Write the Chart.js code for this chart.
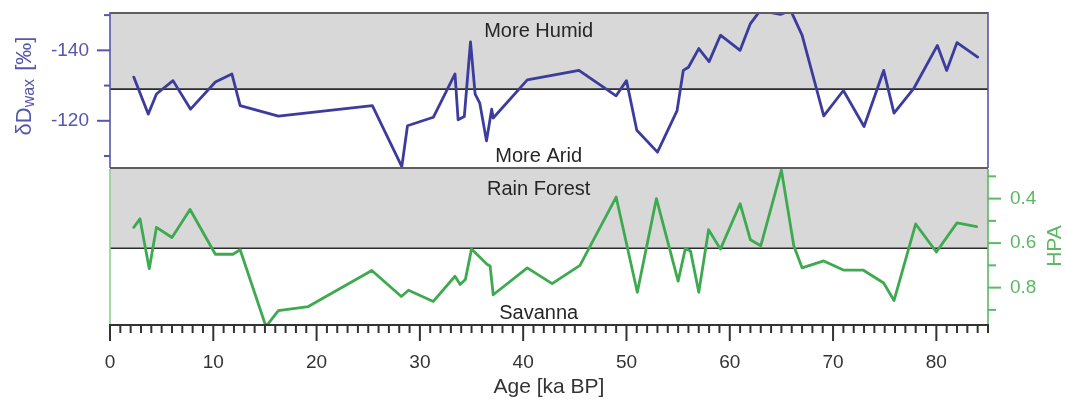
<!DOCTYPE html>
<html><head><meta charset="utf-8">
<script src="https://cdn.jsdelivr.net/npm/chart.js@4.4.1/dist/chart.umd.min.js"></script>
<style>
html,body{margin:0;padding:0;background:#fff;}
#wrap{position:relative;width:1066px;height:401px;background:#fff;}
canvas{position:absolute;left:0;top:0;}
</style></head><body>
<div id="wrap"><canvas id="cTop" width="1066" height="401"></canvas><canvas id="cBot" width="1066" height="401"></canvas></div>
<script>
// ---- data ----
const ageD = [2.3, 3.7, 4.5, 6.1, 7.8, 10.2, 11.8, 12.6, 16.3, 25.4, 28.25, 28.8, 31.3, 33.4, 33.7, 34.3, 34.9, 35.35, 35.8, 36.45, 36.95, 37.1, 40.4, 45.4, 49.0, 50.0, 51.0, 53.0, 54.9, 55.5, 56.0, 57.0, 58.0, 59.1, 61.0, 62.0, 62.95, 64.9, 65.9, 67.0, 69.1, 71.0, 73.0, 74.9, 75.9, 77.8, 80.1, 81.0, 82.0, 84.0];
const dDwax = [-132.4, -121.9, -127.6, -131.4, -123.3, -131.0, -133.3, -124.3, -121.3, -124.3, -107.0, -118.6, -121.0, -133.3, -120.3, -121.2, -142.4, -127.6, -125.0, -114.3, -123.3, -120.8, -131.6, -134.3, -127.1, -131.4, -117.3, -111.1, -122.9, -134.3, -135.2, -140.5, -136.8, -144.3, -140.0, -147.6, -151.3, -150.2, -151.3, -144.3, -121.4, -128.6, -118.4, -134.3, -122.2, -129.1, -141.4, -134.3, -142.2, -138.1];
const ageH = [2.3, 2.9, 3.8, 4.5, 6.0, 7.75, 10.2, 11.9, 12.6, 15.1, 16.3, 19.2, 25.35, 28.2, 28.9, 31.3, 33.4, 33.9, 34.4, 35.0, 36.5, 36.8, 37.1, 40.4, 42.8, 45.5, 49.0, 51.05, 52.9, 55.0, 55.7, 56.2, 57.0, 57.95, 59.1, 61.0, 62.0, 63.0, 65.0, 66.2, 67.0, 69.1, 71.0, 72.9, 74.9, 75.9, 78.0, 80.0, 82.0, 83.9];
const hpa = [0.529, 0.491, 0.715, 0.529, 0.575, 0.449, 0.650, 0.650, 0.630, 0.975, 0.903, 0.885, 0.723, 0.840, 0.812, 0.862, 0.749, 0.786, 0.764, 0.627, 0.695, 0.703, 0.832, 0.711, 0.782, 0.700, 0.393, 0.821, 0.400, 0.771, 0.624, 0.635, 0.821, 0.540, 0.627, 0.423, 0.585, 0.612, 0.272, 0.612, 0.711, 0.680, 0.721, 0.721, 0.779, 0.858, 0.514, 0.640, 0.509, 0.526];

const topTickValues = [-150, -140, -130, -120, -110];
const topTickLabels = ['', '-140', '', '-120', ''];
const botTickValues = [0.3, 0.4, 0.5, 0.6, 0.7, 0.8, 0.9];
const botTickLabels = ['', '0.4', '', '0.6', '', '0.8', ''];
const xLabelValues = [0, 10, 20, 30, 40, 50, 60, 70, 80];
const topDivide = -129;   // humid / arid boundary
const botDivide = 0.623;  // rain forest / savanna boundary

// ---- style ----
const FONT = "'Liberation Sans', Arial, Helvetica, sans-serif";
const BLUE = '#3c3c9e', BLUE_T = '#5656ab';
const GREEN = '#3eaa50', GREEN_T = '#5cb865';
const BAND = '#d8d8d8', BORDER = '#5e5e5e', MID = '#2b2b2b', TXT = '#262626';
Chart.defaults.font.family = FONT;
Chart.defaults.font.size = 19;
Chart.defaults.animation = false;

function seg(ctx, x1, y1, x2, y2, color, w) {
  ctx.beginPath(); ctx.strokeStyle = color; ctx.lineWidth = w;
  ctx.moveTo(x1, y1); ctx.lineTo(x2, y2); ctx.stroke();
}
function text(ctx, s, x, y, color, size, align) {
  ctx.font = size + 'px ' + FONT; ctx.fillStyle = color;
  ctx.textAlign = align || 'center'; ctx.textBaseline = 'middle';
  ctx.fillText(s, x, y);
}
function noPad(s) { s.paddingTop = 0; s.paddingBottom = 0; s.paddingLeft = 0; s.paddingRight = 0; }

const topPlugin = {
  id: 'topDecor',
  beforeDatasetsDraw(chart) {
    const {ctx, chartArea: a, scales: {y}} = chart;
    const ym = y.getPixelForValue(topDivide);
    ctx.save();
    ctx.fillStyle = BAND;
    ctx.fillRect(a.left, a.top, a.right - a.left, ym - a.top);
    seg(ctx, a.left, ym, a.right, ym, MID, 1.6);
    ctx.restore();
  },
  afterDatasetsDraw(chart) {
    const {ctx, chartArea: a, scales: {x, y}} = chart;
    ctx.save();
    seg(ctx, a.left, a.top, a.right, a.top, BORDER, 2);
    seg(ctx, a.left, a.bottom, a.right, a.bottom, BORDER, 2);
    seg(ctx, a.left, a.top - 1, a.left, a.bottom, BLUE_T, 1.6);
    seg(ctx, a.right, a.top - 1, a.right, a.bottom, BLUE_T, 1.6);
    topTickValues.forEach((v, i) => {
      const py = y.getPixelForValue(v);
      const len = topTickLabels[i] ? 13 : 6;
      seg(ctx, a.left - len, py, a.left, py, BLUE_T, 2);
    });
    const cx = x.getPixelForValue(41.5);
    text(ctx, 'More Humid', cx, 31, TXT, 20);
    text(ctx, 'More Arid', cx, 156, TXT, 20);
    // y title with subscript
    ctx.translate(25, 86); ctx.rotate(-Math.PI / 2);
    const big = '22px ' + FONT, small = '16px ' + FONT;
    ctx.font = big; const w1 = ctx.measureText('δD').width;
    ctx.font = small; const w2 = ctx.measureText('wax').width;
    ctx.font = big; const w3 = ctx.measureText(' [‰]').width;
    let sx = -(w1 + w2 + w3 + 2) / 2;
    ctx.fillStyle = BLUE_T; ctx.textAlign = 'left'; ctx.textBaseline = 'middle';
    ctx.font = big; ctx.fillText('δD', sx, 0); sx += w1;
    ctx.font = small; ctx.fillText('wax', sx, 5); sx += w2 + 2;
    ctx.font = big; ctx.fillText(' [‰]', sx, 0);
    ctx.restore();
  }
};

const botPlugin = {
  id: 'botDecor',
  beforeDatasetsDraw(chart) {
    const {ctx, chartArea: a, scales: {y}} = chart;
    const ym = y.getPixelForValue(botDivide);
    ctx.save();
    ctx.fillStyle = BAND;
    ctx.fillRect(a.left, a.top, a.right - a.left, ym - a.top);
    seg(ctx, a.left, ym, a.right, ym, MID, 1.6);
    ctx.restore();
  },
  afterDatasetsDraw(chart) {
    const {ctx, chartArea: a, scales: {x, y}} = chart;
    ctx.save();
    seg(ctx, a.left, a.top, a.left, a.bottom, '#8fcf95', 1.6);
    seg(ctx, a.right, a.top, a.right, a.bottom, GREEN_T, 1.6);
    botTickValues.forEach((v, i) => {
      const py = y.getPixelForValue(v);
      const len = botTickLabels[i] ? 13 : 8;
      seg(ctx, a.right, py, a.right + len, py, GREEN_T, 2);
    });
    seg(ctx, a.left - 1, a.bottom, a.right + 1, a.bottom, '#333', 2);
    x.ticks.forEach(t => {
      const px = x.getPixelForValue(t.value);
      const len = (t.value % 10 === 0) ? 16 : 8;
      seg(ctx, px, a.bottom, px, a.bottom + len, '#333', 2);
    });
    const cx = x.getPixelForValue(41.5);
    text(ctx, 'Rain Forest', cx, 189, TXT, 20);
    text(ctx, 'Savanna', cx, 313, TXT, 20);
    text(ctx, 'Age [ka BP]', x.getPixelForValue(42.5), 387, '#333', 21);
    ctx.translate(1055, 246); ctx.rotate(-Math.PI / 2);
    text(ctx, 'HPA', 0, 0, GREEN_T, 21);
    ctx.restore();
  }
};

new Chart(document.getElementById('cTop'), {
  type: 'line',
  data: { datasets: [{
    data: ageD.map((a, i) => ({x: a, y: dDwax[i]})),
    borderColor: BLUE, borderWidth: 2.8, pointRadius: 0, tension: 0,
    borderJoinStyle: 'round', borderCapStyle: 'round'
  }]},
  options: {
    responsive: false, animation: false,
    layout: { padding: {top: 13, bottom: 233, left: 0, right: 78} },
    plugins: { legend: {display: false}, tooltip: {enabled: false} },
    scales: {
      x: { type: 'linear', min: 0, max: 85, display: false },
      y: {
        type: 'linear', position: 'left', reverse: true, min: -150.6, max: -106.6,
        afterFit(s) { s.width = 110; noPad(s); },
        afterBuildTicks(s) { s.ticks = topTickValues.map(v => ({value: v})); },
        grid: { display: false, drawTicks: false },
        border: { display: false },
        ticks: { color: BLUE_T, padding: 21, autoSkip: false,
          callback: (v, i) => topTickLabels[i] }
      }
    }
  },
  plugins: [topPlugin]
});

new Chart(document.getElementById('cBot'), {
  type: 'line',
  data: { datasets: [{
    data: ageH.map((a, i) => ({x: a, y: hpa[i]})),
    borderColor: GREEN, borderWidth: 2.8, pointRadius: 0, tension: 0,
    borderJoinStyle: 'round', borderCapStyle: 'round'
  }]},
  options: {
    responsive: false, animation: false,
    layout: { padding: {top: 169, bottom: 0, left: 110, right: 0} },
    plugins: { legend: {display: false}, tooltip: {enabled: false} },
    scales: {
      x: {
        type: 'linear', position: 'bottom', min: 0, max: 85,
        afterFit(s) { s.height = 76; noPad(s); },
        afterBuildTicks(s) {
          const t = [];
          for (let v = 0; v <= 85; v++) t.push({value: v});
          s.ticks = t;
        },
        grid: { display: false, drawTicks: false },
        border: { display: false },
        ticks: { color: '#333', padding: 26, autoSkip: false, maxRotation: 0,
          callback: (v) => xLabelValues.includes(v) ? String(v) : '' }
      },
      y: {
        type: 'linear', position: 'right', reverse: true, min: 0.267, max: 0.968,
        afterFit(s) { s.width = 78; noPad(s); },
        afterBuildTicks(s) { s.ticks = botTickValues.map(v => ({value: v})); },
        grid: { display: false, drawTicks: false },
        border: { display: false },
        ticks: { color: GREEN_T, padding: 22, autoSkip: false,
          callback: (v, i) => botTickLabels[i] }
      }
    }
  },
  plugins: [botPlugin]
});
</script>
</body></html>
